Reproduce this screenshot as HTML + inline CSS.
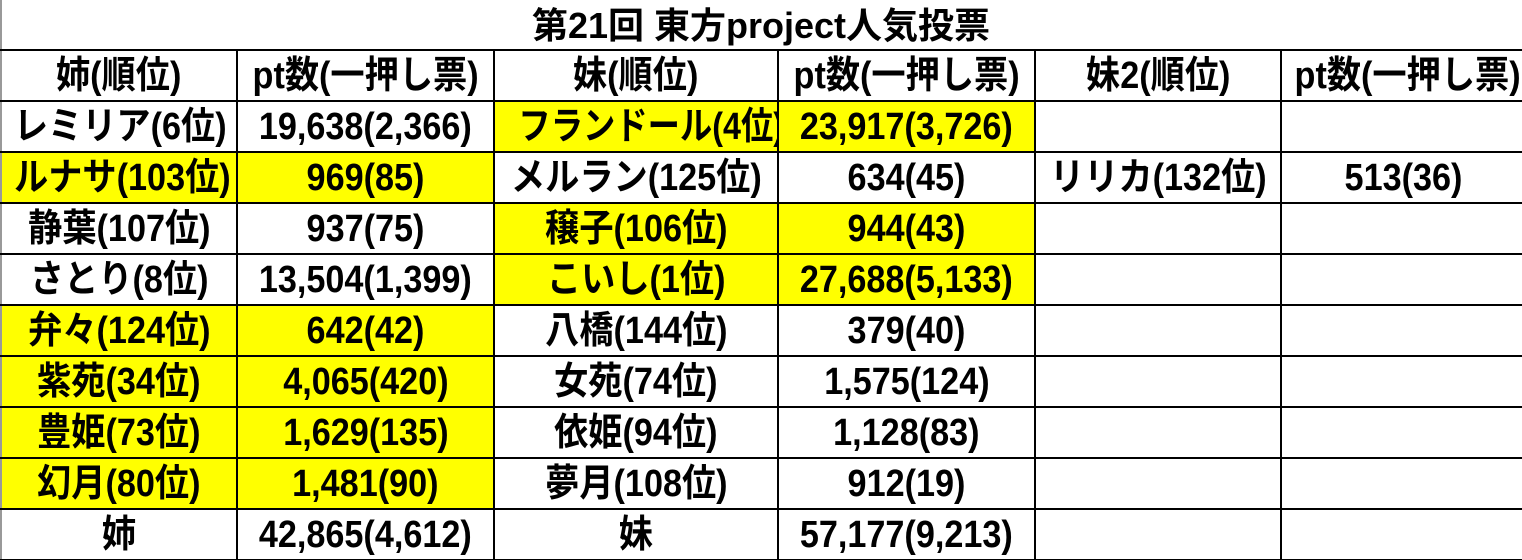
<!DOCTYPE html>
<html><head><meta charset="utf-8">
<style>
html,body{margin:0;padding:0;background:#fff;width:1522px;height:560px;overflow:hidden;}
body{position:relative;font-family:"Liberation Sans","Noto Sans CJK JP",sans-serif;font-weight:bold;color:#000;}
#title{position:absolute;left:0;top:0;width:1522px;height:50px;line-height:52px;text-align:center;font-size:36px;}
#leftline{position:absolute;left:0;top:0;width:2px;height:560px;background:#999;}
table{position:absolute;left:0;top:49px;border-collapse:collapse;table-layout:fixed;width:1524px;}
tr{height:51px;}
td{border:2px solid #000;height:49px;box-sizing:border-box;padding:0;text-align:center;vertical-align:middle;font-size:38px;line-height:1;white-space:nowrap;overflow:hidden;}
td span{display:inline-block;transform:scaleX(0.9);line-height:1;}
td span.n{transform:scaleX(0.84);}
.y{background:#ffff00;}
td.first{border-left:2px solid #999;}
</style></head><body>
<div id="leftline"></div>
<div id="title"><span>第21回 東方project人気投票</span></div>
<table>
<colgroup><col style="width:236px"><col style="width:257px"><col style="width:284px"><col style="width:257px"><col style="width:246px"><col style="width:244px"></colgroup>
<tr><td class="first"><span>姉(順位)</span></td><td><span>pt数(一押し票)</span></td><td><span>妹(順位)</span></td><td><span>pt数(一押し票)</span></td><td><span>妹2(順位)</span></td><td><span>pt数(一押し票)</span></td></tr>
<tr><td class="first"><span>レミリア(6位)</span></td><td><span>19,638(2,366)</span></td><td class="y"><span class="n" style="transform:scaleX(0.85)">フランドール(4位)</span></td><td class="y"><span>23,917(3,726)</span></td><td></td><td></td></tr>
<tr><td class="first y"><span>ルナサ(103位)</span></td><td class="y"><span>969(85)</span></td><td><span>メルラン(125位)</span></td><td><span>634(45)</span></td><td><span>リリカ(132位)</span></td><td><span>513(36)</span></td></tr>
<tr><td class="first"><span>静葉(107位)</span></td><td><span>937(75)</span></td><td class="y"><span>穣子(106位)</span></td><td class="y"><span>944(43)</span></td><td></td><td></td></tr>
<tr><td class="first"><span>さとり(8位)</span></td><td><span>13,504(1,399)</span></td><td class="y"><span>こいし(1位)</span></td><td class="y"><span>27,688(5,133)</span></td><td></td><td></td></tr>
<tr><td class="first y"><span>弁々(124位)</span></td><td class="y"><span>642(42)</span></td><td><span>八橋(144位)</span></td><td><span>379(40)</span></td><td></td><td></td></tr>
<tr><td class="first y"><span>紫苑(34位)</span></td><td class="y"><span>4,065(420)</span></td><td><span>女苑(74位)</span></td><td><span>1,575(124)</span></td><td></td><td></td></tr>
<tr><td class="first y"><span>豊姫(73位)</span></td><td class="y"><span>1,629(135)</span></td><td><span>依姫(94位)</span></td><td><span>1,128(83)</span></td><td></td><td></td></tr>
<tr><td class="first y"><span>幻月(80位)</span></td><td class="y"><span>1,481(90)</span></td><td><span>夢月(108位)</span></td><td><span>912(19)</span></td><td></td><td></td></tr>
<tr><td class="first"><span>姉</span></td><td><span>42,865(4,612)</span></td><td><span>妹</span></td><td><span>57,177(9,213)</span></td><td></td><td></td></tr>
</table>
</body></html>
